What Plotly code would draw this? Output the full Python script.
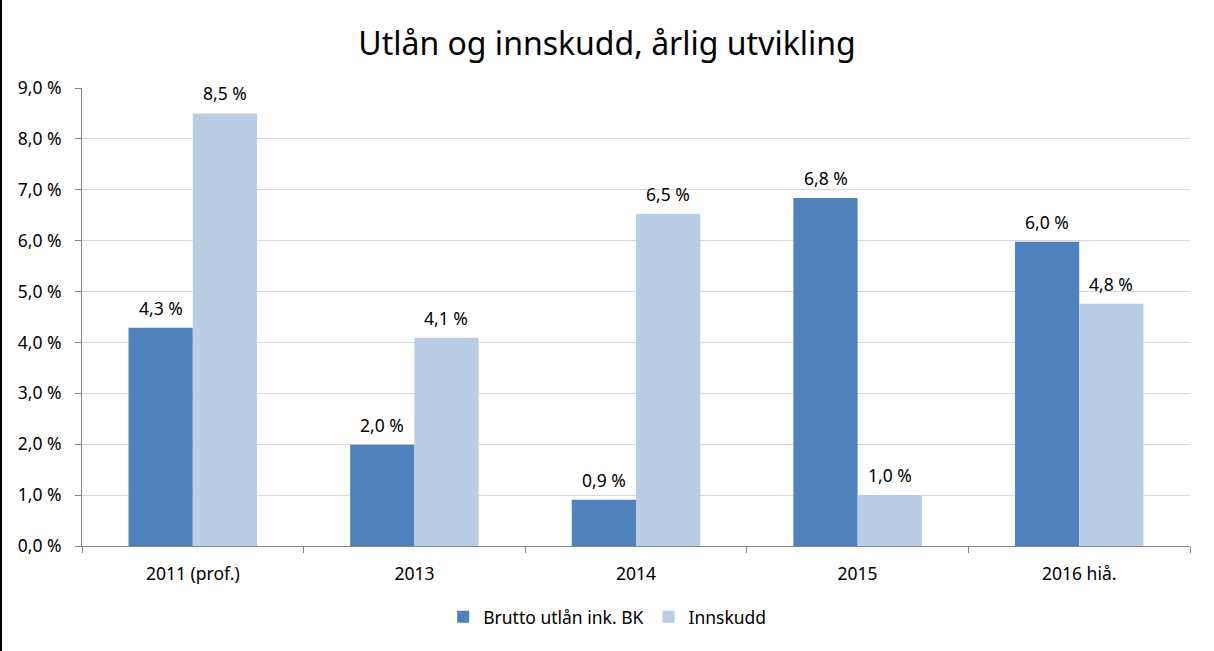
import plotly.graph_objects as go

categories = ["2011 (prof.)", "2013", "2014", "2015", "2016 hiå."]
utlan = [4.29, 1.99, 0.91, 6.84, 5.98]
innskudd = [8.5, 4.09, 6.53, 1.0, 4.76]
series_names = ["Brutto utlån ink. BK", "Innskudd"]
colors = ["#4F81BD", "#B9CDE5"]
title = "Utlån og innskudd, årlig utvikling"
y_ticks = [0, 1, 2, 3, 4, 5, 6, 7, 8, 9]
y_ticktext = [f"{t:.1f}".replace(".", ",") + " %" for t in y_ticks]

FONT = "Noto Sans"
FS = 17.5

fig = go.Figure()
for name, vals, col in zip(series_names, [utlan, innskudd], colors):
    fig.add_trace(go.Bar(x=categories, y=vals, name=name, marker_color=col,
                         marker_line_width=0))

annotations = []
for vals, shift in [(utlan, -32), (innskudd, 32)]:
    for i, v in enumerate(vals):
        annotations.append(dict(x=i, y=v, xref="x", yref="y", xshift=shift, yshift=6,
                                text=f"{v:.1f}".replace(".", ",") + " %",
                                showarrow=False, yanchor="bottom",
                                font=dict(family=FONT, size=FS, color="#000000")))

fig.update_layout(
    width=1214, height=651,
    margin=dict(l=82, r=24, t=88, b=105, autoexpand=False),
    paper_bgcolor="white", plot_bgcolor="white",
    barmode="group", bargap=0.42, bargroupgap=0,
    title=dict(text=title, x=0.5, xref="container", xanchor="center", y=0.932, yanchor="middle",
               font=dict(family=FONT, size=32, color="#000000")),
    font=dict(family=FONT, size=FS, color="#000000"),
    annotations=annotations,
    legend=dict(orientation="h", x=0.474, xanchor="center",
                y=-0.155, yanchor="middle",
                font=dict(family=FONT, size=FS), itemwidth=30, traceorder="normal"),
    xaxis=dict(type="category", categoryorder="array", categoryarray=categories,
               range=[-0.5, len(categories) - 0.5],
               showline=True, linecolor="#868686", linewidth=1,
               ticks="outside", tickson="boundaries", ticklen=6, tickcolor="#868686",
               ticklabelstandoff=12,
               tickangle=0, tickfont=dict(family=FONT, size=FS)),
    yaxis=dict(range=[0, 9], tickvals=y_ticks, ticktext=y_ticktext,
               showgrid=True, gridcolor="#D9D9D9", gridwidth=1,
               showline=True, linecolor="#868686", linewidth=1,
               ticks="outside", ticklen=6, tickcolor="#868686",
               ticklabelstandoff=10,
               zeroline=False, tickfont=dict(family=FONT, size=FS)),
    shapes=[dict(type="line", xref="paper", yref="paper", x0=-81/1108, x1=-81/1108,
                 y0=-105/458, y1=1 + 88/458, line=dict(color="#000000", width=2))],
)

fig.write_html("out.html")
